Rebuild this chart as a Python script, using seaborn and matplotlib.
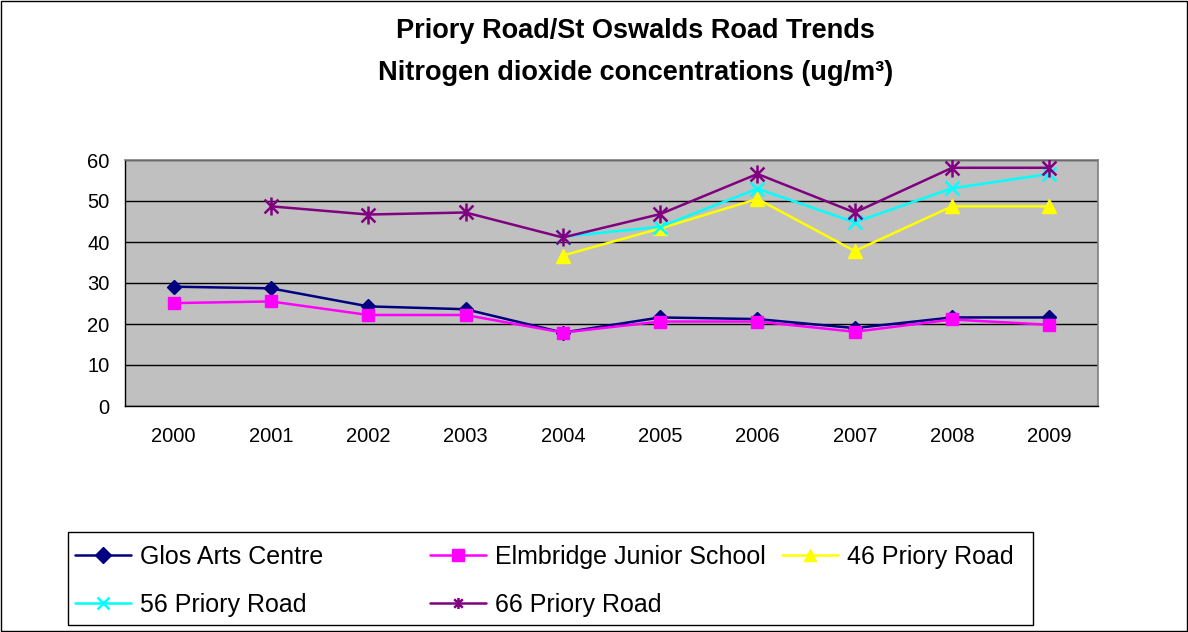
import numpy as np
import pandas as pd
import matplotlib
matplotlib.use("Agg")
import matplotlib.pyplot as plt
from matplotlib.path import Path
import seaborn as sns

years = ["2000", "2001", "2002", "2003", "2004", "2005", "2006", "2007", "2008", "2009"]
glos_arts = [29.1, 28.7, 24.3, 23.6, 17.9, 21.6, 21.2, 19.0, 21.6, 21.6]
elmbridge = [25.1, 25.5, 22.2, 22.2, 17.9, 20.6, 20.6, 18.1, 21.1, 19.8]
priory_46 = [np.nan, np.nan, np.nan, np.nan, 36.7, 43.3, 50.5, 37.8, 48.7, 48.7]
priory_56 = [np.nan, np.nan, np.nan, np.nan, 41.3, 43.7, 53.0, 44.8, 53.1, 56.6]
priory_66 = [np.nan, 48.7, 46.7, 47.2, 41.1, 46.8, 56.6, 47.2, 58.1, 58.1]

star = Path([(-1, -1), (1, 1), (-1, 1), (1, -1), (0, -1.3), (0, 1.3)],
            [Path.MOVETO, Path.LINETO, Path.MOVETO, Path.LINETO, Path.MOVETO, Path.LINETO])

series = [
    ("Glos Arts Centre", glos_arts, "#000080", "D", 7),
    ("Elmbridge Junior School", elmbridge, "#FF00FF", "s", 9),
    ("46 Priory Road", priory_46, "#FFFF00", "^", 10),
    ("56 Priory Road", priory_56, "#00FFFF", "x", 10),
    ("66 Priory Road", priory_66, "#800080", star, 13),
]

sns.set_style("white")
plt.rcParams["font.family"] = ["Liberation Sans", "DejaVu Sans"]
plt.rcParams["text.color"] = "black"
plt.rcParams["xtick.color"] = "black"
plt.rcParams["ytick.color"] = "black"

fig = plt.figure(figsize=(11.88, 6.32), dpi=100)
ax = fig.add_axes([125/1188, 1-406/632, (1098-125)/1188, (406-160)/632])
ax.set_facecolor("#C0C0C0")

xpos = np.arange(len(years))
handles = []
for name, vals, col, mk, ms in series:
    df = pd.DataFrame({"x": xpos, "y": vals}).dropna()
    open_mk = mk is star or mk == "x"
    sns.lineplot(data=df, x="x", y="y", ax=ax, color=col, marker=mk,
                 markersize=ms, markeredgecolor=col,
                 markerfacecolor="none" if open_mk else col,
                 markeredgewidth=1.8 if open_mk else 1,
                 linewidth=1.8, label=name, legend=False, zorder=3)
    handles.append(ax.lines[-1])

ax.set_xlim(-0.5, len(years) - 0.5)
ax.set_ylim(0, 60)
ax.set_yticks(range(0, 61, 10))
ax.set_xticks(np.arange(-0.5, len(years), 1.0))
ax.set_xticklabels([])
ax.set_xticks(xpos, minor=True)
ax.set_xticklabels(years, minor=True)
ax.tick_params(axis="x", which="major", direction="out", length=5, width=1, color="black")
ax.tick_params(axis="x", which="minor", length=0, pad=15, labelsize=14.5, labelcolor="black")
ax.tick_params(axis="y", direction="out", length=3.6, width=1, color="black", labelsize=14.5,
               pad=7.5, labelcolor="black")
ax.yaxis.grid(True, color="black", linewidth=1)
ax.xaxis.grid(False)
ax.set_axisbelow(True)
ax.set_xlabel("")
ax.set_ylabel("")
for s in ["left", "bottom"]:
    ax.spines[s].set_color("black")
    ax.spines[s].set_linewidth(1)
for s in ["top", "right"]:
    ax.spines[s].set_color("#808080")
    ax.spines[s].set_linewidth(1.2)

fig.text(0.535, 1-31/632, "Priory Road/St Oswalds Road Trends", ha="center", va="center",
         fontsize=19.5, fontweight="bold", color="black")
fig.text(0.535, 1-73/632, "Nitrogen dioxide concentrations (ug/m\u00b3)", ha="center", va="center",
         fontsize=19.5, fontweight="bold", color="black")

# legend: three equal-width columns inside one framed box
columns = [[0, 3], [1, 4], [2]]
col_x = [75, 430, 782]
for idxs, cx in zip(columns, col_x):
    leg = fig.legend([handles[i] for i in idxs], [series[i][0] for i in idxs],
                     loc="upper left", bbox_to_anchor=(cx/1188, 1-545/632),
                     frameon=False, fontsize=18, handlelength=2.25, handletextpad=0.35,
                     borderpad=0, borderaxespad=0, labelspacing=0.95)
    for t in leg.get_texts():
        t.set_color("black")
    for h in leg.legend_handles:
        h.set_markersize(8 if h.get_marker() is not star else 10)
fig.add_artist(plt.Rectangle((68/1188, 1-625/632), (1033-68)/1188, (625-532)/632,
                             transform=fig.transFigure, fill=False, edgecolor="black", linewidth=1))

fig.add_artist(plt.Rectangle((0.001, 0.001), 0.998, 0.997, transform=fig.transFigure,
                             fill=False, edgecolor="black", linewidth=1))

fig.savefig("out.png", dpi=100, facecolor="white")
